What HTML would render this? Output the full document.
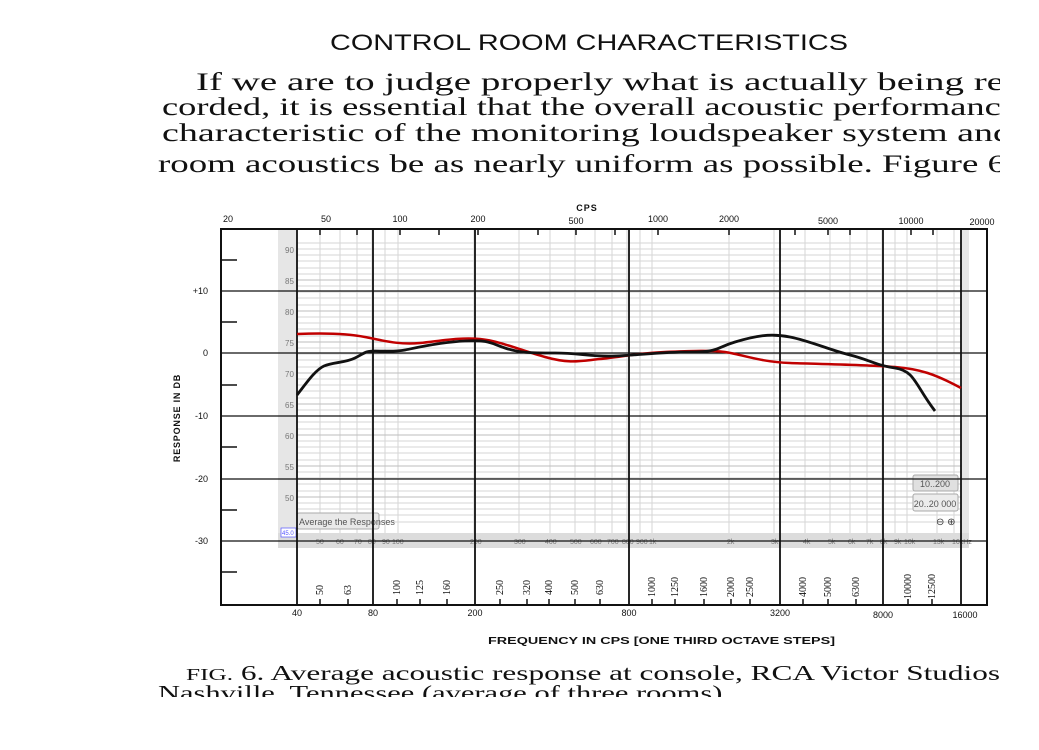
<!DOCTYPE html>
<html><head><meta charset="utf-8"><style>
body{margin:0;background:#fff;}
svg{display:block}
.s{font-family:"Liberation Serif",serif;}
.a{font-family:"Liberation Sans",sans-serif;}
</style></head><body>
<svg width="1039" height="750" viewBox="0 0 1039 750" xmlns="http://www.w3.org/2000/svg">
<rect width="1039" height="750" fill="#fff"/>
<text x="330" y="50" textLength="518" lengthAdjust="spacingAndGlyphs" class="a" font-size="22" fill="#111">CONTROL ROOM CHARACTERISTICS</text>
<g class="s" font-size="25" fill="#111">
<text x="196" y="90" textLength="808" lengthAdjust="spacingAndGlyphs">If we are to judge properly what is actually being re</text>
<text x="162" y="115" textLength="855" lengthAdjust="spacingAndGlyphs">corded, it is essential that the overall acoustic performance</text>
<text x="162" y="141" textLength="850" lengthAdjust="spacingAndGlyphs">characteristic of the monitoring loudspeaker system and</text>
<text x="158" y="172" textLength="848" lengthAdjust="spacingAndGlyphs">room acoustics be as nearly uniform as possible. Figure 6</text>
</g>
<rect x="1000" y="60" width="39" height="130" fill="#fff"/>

<rect x="278" y="229" width="691" height="319" fill="#e6e6e6"/>
<rect x="297" y="229" width="664" height="304" fill="#fff"/>
<g stroke="#d6d6d6" stroke-width="1">
<path d="M297 243H961M297 249H961M297 255H961M297 261H961M297 268H961M297 274H961M297 286H961M297 292H961M297 298H961M297 305H961M297 317H961M297 323H961M297 329H961M297 336H961M297 348H961M297 354H961M297 360H961M297 367H961M297 379H961M297 385H961M297 391H961M297 398H961M297 410H961M297 416H961M297 422H961M297 429H961M297 441H961M297 447H961M297 453H961M297 460H961M297 472H961M297 478H961M297 484H961M297 491H961M297 503H961M297 509H961M297 515H961M297 522H961"/>
<path d="M320 229V533M340 229V533M357 229V533M372 229V533M385 229V533M398 229V533M474 229V533M519 229V533M550 229V533M575 229V533M595 229V533M612 229V533M627 229V533M640 229V533M652 229V533M729 229V533M774 229V533M805 229V533M830 229V533M850 229V533M867 229V533M882 229V533M895 229V533M907 229V533M937 229V533M954 229V533"/>
</g>
<g stroke="#bdbdbd" stroke-width="1">
<path d="M297 280H961M297 311H961M297 342H961M297 373H961M297 404H961M297 435H961M297 466H961M297 497H961"/>
</g>
<rect x="278" y="533" width="691" height="15" fill="#dcdcdc"/>
<g class="a" font-size="8" fill="#777">
<text x="285" y="253">90</text><text x="285" y="284">85</text><text x="285" y="315">80</text><text x="285" y="346">75</text><text x="285" y="377">70</text><text x="285" y="408">65</text><text x="285" y="439">60</text><text x="285" y="470">55</text><text x="285" y="501">50</text>
<text y="544" font-size="7">
<tspan x="316">50</tspan><tspan x="336">60</tspan><tspan x="354">70</tspan><tspan x="368">80</tspan><tspan x="382">90</tspan><tspan x="392">100</tspan><tspan x="470">200</tspan><tspan x="514">300</tspan><tspan x="545">400</tspan><tspan x="570">500</tspan><tspan x="590">600</tspan><tspan x="607">700</tspan><tspan x="622">800</tspan><tspan x="636">900</tspan><tspan x="649">1k</tspan><tspan x="727">2k</tspan><tspan x="771">3k</tspan><tspan x="803">4k</tspan><tspan x="828">5k</tspan><tspan x="848">6k</tspan><tspan x="866">7k</tspan><tspan x="880">8k</tspan><tspan x="894">9k</tspan><tspan x="904">10k</tspan><tspan x="933">13k</tspan><tspan x="952">16kHz</tspan></text>
</g>
<rect x="297" y="513" width="82" height="16" rx="2" fill="#e9e9e9" stroke="#aaa"/>
<text x="299" y="525" class="a" font-size="9" fill="#555">Average the Responses</text>
<rect x="281" y="528" width="15" height="9" fill="#fff" stroke="#55f" stroke-width="0.7"/>
<text x="282" y="535" class="a" font-size="6" fill="#55f">45.0</text>
<rect x="913" y="475" width="45" height="16" rx="2" fill="#e0e0e0" stroke="#aaa"/>
<text x="935" y="487" text-anchor="middle" class="a" font-size="9" fill="#555">10..200</text>
<rect x="913" y="494" width="45" height="17" rx="2" fill="#ececec" stroke="#aaa"/>
<text x="935" y="507" text-anchor="middle" class="a" font-size="9" fill="#555">20..20 000</text>
<text x="936" y="525" class="a" font-size="10" fill="#333">⊖ ⊕</text>

<g stroke="#111" fill="none">
<rect x="221" y="229" width="766" height="376" stroke-width="2"/>
<path d="M221 291H987M221 353H987M221 416H987M221 479H987M221 541H987" stroke-width="1.3"/>
<path d="M297 229V605M373 229V605M475 229V605M629 229V605M780 229V605M883 229V605M961 229V605" stroke-width="1.8"/>
<path d="M221 260H237M221 322H237M221 385H237M221 447H237M221 510H237M221 572H237" stroke-width="1.5"/>
<path d="M320 229v6M357 229v6M400 229v6M439 229v6M478 229v6M538 229v6M576 229v6M615 229v6M658 229v6M729 229v6M795 229v6M828 229v6M850 229v6M911 229v6M933 229v6" stroke-width="1.5"/>
<path d="M320 605v-6M348 605v-6M397 605v-6M420 605v-6M447 605v-6M500 605v-6M527 605v-6M549 605v-6M575 605v-6M600 605v-6M652 605v-6M675 605v-6M704 605v-6M731 605v-6M750 605v-6M803 605v-6M828 605v-6M856 605v-6M908 605v-6M932 605v-6" stroke-width="1.5"/>
</g>
<g class="a" font-size="9" fill="#111">
<text x="208" y="294" text-anchor="end">+10</text><text x="208" y="356" text-anchor="end">0</text><text x="208" y="419" text-anchor="end">-10</text><text x="208" y="482" text-anchor="end">-20</text><text x="208" y="544" text-anchor="end">-30</text>
<text x="228" y="222" text-anchor="middle">20</text><text x="326" y="222" text-anchor="middle">50</text><text x="400" y="222" text-anchor="middle">100</text><text x="478" y="222" text-anchor="middle">200</text><text x="576" y="224" text-anchor="middle">500</text><text x="658" y="222" text-anchor="middle">1000</text><text x="729" y="222" text-anchor="middle">2000</text><text x="828" y="224" text-anchor="middle">5000</text><text x="911" y="224" text-anchor="middle">10000</text><text x="982" y="225" text-anchor="middle">20000</text>
<text x="587" y="211" text-anchor="middle" font-weight="bold" letter-spacing="1">CPS</text>
<text x="297" y="616" text-anchor="middle">40</text><text x="373" y="616" text-anchor="middle">80</text><text x="475" y="616" text-anchor="middle">200</text><text x="629" y="616" text-anchor="middle">800</text><text x="780" y="616" text-anchor="middle">3200</text><text x="883" y="618" text-anchor="middle">8000</text><text x="965" y="618" text-anchor="middle">16000</text>
<text x="180" y="418" text-anchor="middle" font-weight="bold" transform="rotate(-90 180 418)" letter-spacing="0.8">RESPONSE IN DB</text>
<text x="488" y="644" font-weight="bold" font-size="10" textLength="347" lengthAdjust="spacingAndGlyphs">FREQUENCY IN CPS [ONE THIRD OCTAVE STEPS]</text>
</g>
<g class="s" font-size="10" fill="#111">
<text transform="translate(323 595) rotate(-90)">50</text><text transform="translate(351 595) rotate(-90)">63</text><text transform="translate(400 595) rotate(-90)">100</text><text transform="translate(423 595) rotate(-90)">125</text><text transform="translate(450 595) rotate(-90)">160</text><text transform="translate(503 595) rotate(-90)">250</text><text transform="translate(530 595) rotate(-90)">320</text><text transform="translate(552 595) rotate(-90)">400</text><text transform="translate(578 595) rotate(-90)">500</text><text transform="translate(603 595) rotate(-90)">630</text><text transform="translate(655 597) rotate(-90)">1000</text><text transform="translate(678 597) rotate(-90)">1250</text><text transform="translate(707 597) rotate(-90)">1600</text><text transform="translate(734 597) rotate(-90)">2000</text><text transform="translate(753 597) rotate(-90)">2500</text><text transform="translate(806 597) rotate(-90)">4000</text><text transform="translate(831 597) rotate(-90)">5000</text><text transform="translate(859 597) rotate(-90)">6300</text><text transform="translate(911 599) rotate(-90)">10000</text><text transform="translate(935 599) rotate(-90)">12500</text>
</g>

<path d="M297 334 C320 333 345 333 365 337 S400 345 420 343 S460 337 480 339 S520 350 545 357 S580 361 600 359 S640 353 665 352 S710 350 725 352 S760 362 790 363 S870 365 895 367 S935 374 961 388" fill="none" stroke="#c00000" stroke-width="2.5"/>
<path d="M297 395 C305 385 315 370 324 366 S345 363 355 358 S365 351 375 351 S395 352 405 350 S440 342 465 341 S490 343 505 348 S530 353 555 353 S590 357 615 356 S660 352 690 352 S715 348 735 342 S770 333 790 337 S830 350 850 355 S875 365 895 368 S915 385 935 411" fill="none" stroke="#111" stroke-width="2.8"/>

<g class="s" font-size="21" fill="#111">
<text x="186" y="680" textLength="814" lengthAdjust="spacingAndGlyphs"><tspan font-size="17">FIG.</tspan> 6. Average acoustic response at console, RCA Victor Studios</text>
<text x="158" y="700" textLength="572" lengthAdjust="spacingAndGlyphs">Nashville, Tennessee (average of three rooms).</text>
</g>
<rect x="0" y="697" width="1039" height="53" fill="#fff"/>
</svg>
</body></html>
